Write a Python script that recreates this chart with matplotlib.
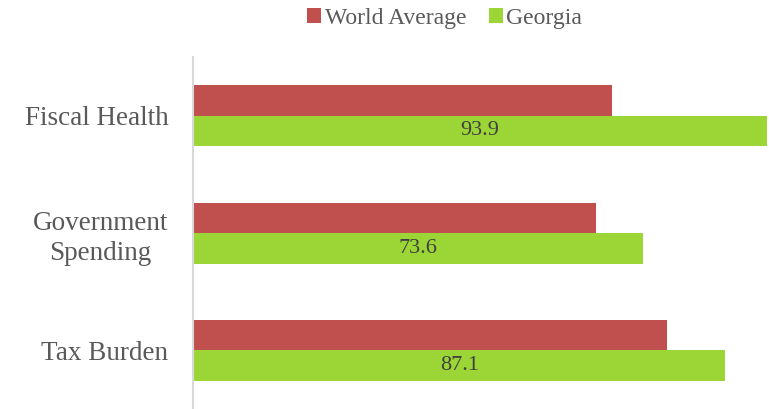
import matplotlib.pyplot as plt
import numpy as np

categories = ["Fiscal Health", "Government\nSpending", "Tax Burden"]
world_avg = [68.6, 65.9, 77.6]
georgia = [93.9, 73.6, 87.1]

red = "#C0504D"
green = "#9BD636"

plt.rcParams['font.family'] = ['Liberation Serif', 'DejaVu Serif']

fig = plt.figure(figsize=(7.69, 4.09), dpi=100)
ax = fig.add_axes([0.2514, 0.0, 0.7486, 0.8606])

y = np.arange(len(categories))
h = 0.26
ax.barh(y - h / 2, world_avg, height=h, color=red, label="World Average")
bars = ax.barh(y + h / 2, georgia, height=h, color=green, label="Georgia")

for b, v in zip(bars, georgia):
    ax.text(b.get_width() / 2, b.get_y() + b.get_height() / 2, f"{v:.1f}",
            ha='center', va='center', fontsize=16, color='#404040')

ax.set_xlim(0, 94.3)
ax.set_ylim(2.5, -0.5)
ax.set_yticks(y)
ax.set_yticklabels(categories, fontsize=19.5, color='#595959',
                   multialignment='center', linespacing=1.25)
ax.tick_params(axis='y', length=0, pad=18)
ax.set_xticks([])

for s in ['top', 'right', 'bottom']:
    ax.spines[s].set_visible(False)
ax.spines['left'].set_color('#D9D9D9')
ax.spines['left'].set_linewidth(1.5)

leg = fig.legend(loc='center', bbox_to_anchor=(0.578, 0.955), ncol=2, frameon=False,
                 fontsize=17, handlelength=0.6, handleheight=0.6, handletextpad=0.15,
                 columnspacing=0.95)
for t in leg.get_texts():
    t.set_color('#595959')

fig.savefig('out.png', dpi=100)
